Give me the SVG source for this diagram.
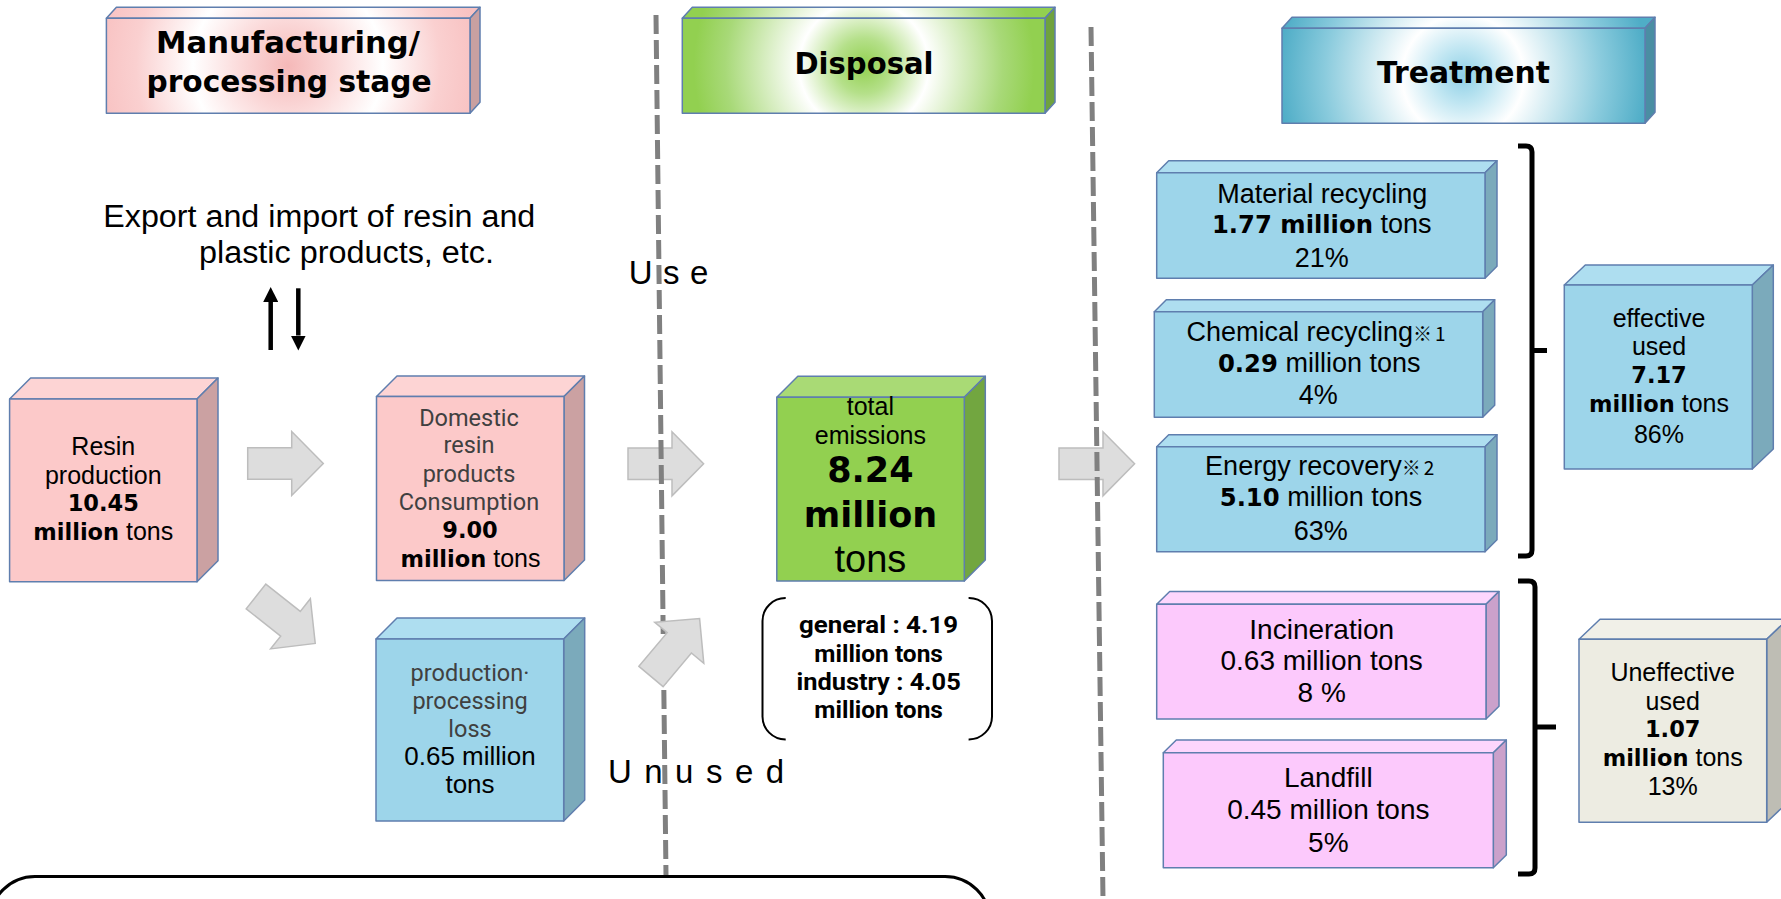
<svg xmlns="http://www.w3.org/2000/svg" xmlns:xlink="http://www.w3.org/1999/xlink" width="1781" height="899" viewBox="0 0 1781 899">
<style>
.e{stroke:#5F7EAE;stroke-width:1.5;stroke-linejoin:round}
.pkF{fill:#FCC9C9}.pkT{fill:#FDD4D4}.pkS{fill:#CBA1A2}
.blF{fill:#9DD5EA}.blT{fill:#AEDEF0}.blS{fill:#7BAABB}
.mgF{fill:#FCC9FC}.mgT{fill:#FDD6FD}.mgS{fill:#CBA1CB}
.grF{fill:#92D050}.grT{fill:#A9DA75}.grS{fill:#72A640}
.bgF{fill:#EDECE2}.bgT{fill:#F1F0E8}.bgS{fill:#BEBDB4}
.t{font-family:"Liberation Sans",Arial,sans-serif;fill:#000;text-anchor:middle}
.b{font-family:"DejaVu Sans",Verdana,sans-serif;font-weight:bold}
.r{font-family:Roboto,"Liberation Sans",sans-serif;fill:#404040}
.k{font-family:"Noto Sans CJK JP",sans-serif;font-size:19px}
.h{font-family:"DejaVu Sans",Verdana,sans-serif;font-weight:bold;font-size:31px;fill:#000;text-anchor:middle}
.g{font-family:Roboto,"Liberation Sans",sans-serif;font-weight:bold;font-size:23px;fill:#000;text-anchor:middle}
.blk{fill:#DDDDDD;stroke:#BDBDBD;stroke-width:1.5;stroke-linejoin:miter}
.dash{stroke:#808080;stroke-width:5;stroke-dasharray:19 6;fill:none}
.brk{fill:none;stroke:#000;stroke-width:5;stroke-linejoin:round;stroke-linecap:butt}
.thin{fill:none;stroke:#000;stroke-width:4.5}
</style>
<defs>
<radialGradient id="gPk" gradientUnits="userSpaceOnUse" cx="288" cy="66" r="190">
<stop offset="0" stop-color="#F5B8B8"/><stop offset="0.25" stop-color="#FBDADA"/><stop offset="0.5" stop-color="#FFFFFF"/><stop offset="0.8" stop-color="#FAD0D0"/><stop offset="1" stop-color="#F8C2C2"/>
</radialGradient>
<radialGradient id="gGr" gradientUnits="userSpaceOnUse" cx="864" cy="66" r="185">
<stop offset="0" stop-color="#92D050"/><stop offset="0.15" stop-color="#B5E08A"/><stop offset="0.35" stop-color="#FFFFFF"/><stop offset="0.75" stop-color="#A8D978"/><stop offset="0.92" stop-color="#92D050"/>
</radialGradient>
<radialGradient id="gBl" gradientUnits="userSpaceOnUse" cx="1463" cy="76" r="185">
<stop offset="0" stop-color="#8FD0E6"/><stop offset="0.15" stop-color="#C0E6F2"/><stop offset="0.33" stop-color="#FFFFFF"/><stop offset="0.75" stop-color="#8ACBDD"/><stop offset="1" stop-color="#4FADC7"/>
</radialGradient>
<path id="arr" d="M0,-15.8 H44 V-32 L75.6,0 L44,32 V15.8 H0 Z"/>
<marker id="ah" markerUnits="userSpaceOnUse" viewBox="0 0 15 15" markerWidth="15" markerHeight="15" refX="0" refY="7.5" orient="auto">
<path d="M0,0 L15,7.5 L0,15 Z" fill="#000"/>
</marker>
</defs>
<rect width="1781" height="899" fill="#FFFFFF"/>

<g id="connectors">
<use xlink:href="#arr" class="blk" transform="translate(628,463.8)"/>
<use xlink:href="#arr" class="blk" transform="translate(1059,463.8)"/>
<line class="dash" x1="656" y1="15" x2="666" y2="876"/>
<line class="dash" x1="1091" y1="27" x2="1103" y2="899"/>
<use xlink:href="#arr" class="blk" transform="translate(247.7,463.5)"/>
<use xlink:href="#arr" class="blk" transform="translate(256,596.5) rotate(38.4)"/>
<use xlink:href="#arr" class="blk" transform="translate(651,676.5) rotate(-50)"/>
<line class="thin" x1="270.7" y1="350" x2="270.7" y2="302" marker-end="url(#ah)"/>
<line class="thin" x1="298.3" y1="288.3" x2="298.3" y2="335.5" marker-end="url(#ah)"/>
<path class="brk" d="M1518,146 H1526 Q1532,146 1532,152 V550 Q1532,556 1526,556 H1518 M1532,350.5 H1547"/>
<path class="brk" d="M1518,581 H1529 Q1535,581 1535,587 V868 Q1535,874 1529,874 H1518 M1535,727 H1556"/>
<path fill="none" stroke="#000" stroke-width="2" d="M785.7,598 A23,23 0 0 0 762.5,621 V716 A23,23 0 0 0 785.7,739.4 M968.6,598 A23,23 0 0 1 992,621 V716 A23,23 0 0 1 968.6,739.4"/>
</g>

<g id="hdr-manufacturing">
<polygon class="e" fill="url(#gPk)" points="106.4,18.3 116.4,7.3 480,7.3 470,18.3"/>
<polygon class="e" fill="#C9A0A1" points="470,18.3 480,7.3 480,102.3 470,113.3"/>
<rect class="e" fill="url(#gPk)" x="106.4" y="18.3" width="363.6" height="95"/>
<text class="h" x="288" y="52.7" textLength="264" lengthAdjust="spacingAndGlyphs">Manufacturing/</text>
<text class="h" x="289" y="91.7" textLength="285" lengthAdjust="spacingAndGlyphs">processing stage</text>
</g>

<g id="hdr-disposal">
<polygon class="e" fill="url(#gGr)" points="682.3,18.3 692.3,7.3 1055,7.3 1045,18.3"/>
<polygon class="e" fill="#6FA23E" points="1045,18.3 1055,7.3 1055,102.3 1045,113.3"/>
<rect class="e" fill="url(#gGr)" x="682.3" y="18.3" width="362.7" height="95"/>
<text class="h" x="864" y="74" textLength="139" lengthAdjust="spacingAndGlyphs">Disposal</text>
</g>

<g id="hdr-treatment">
<polygon class="e" fill="url(#gBl)" points="1282,28.3 1292,17.3 1655,17.3 1645,28.3"/>
<polygon class="e" fill="#4A8EA3" points="1645,28.3 1655,17.3 1655,112.3 1645,123.3"/>
<rect class="e" fill="url(#gBl)" x="1282" y="28.3" width="363" height="95"/>
<text class="h" x="1463.5" y="83.3" textLength="173" lengthAdjust="spacingAndGlyphs">Treatment</text>
</g>

<g id="export-import">
<text class="t" style="text-anchor:start" x="103.3" y="226.7" font-size="31" textLength="432" lengthAdjust="spacingAndGlyphs">Export and import of resin and</text>
<text class="t" style="text-anchor:start" x="199" y="263" font-size="31" textLength="295" lengthAdjust="spacingAndGlyphs">plastic products, etc.</text>
</g>

<g id="resin-production">
<polygon class="e pkT" points="9.6,399 30.6,378 218,378 197,399"/>
<polygon class="e pkS" points="197,399 218,378 218,560.8 197,581.8"/>
<rect class="e pkF" x="9.6" y="399" width="187.4" height="182.8"/>
<text class="t" x="103.3" y="455" font-size="25">Resin</text>
<text class="t" x="103.3" y="483.7" font-size="25">production</text>
<text class="t" x="103.3" y="511" font-size="25"><tspan class="b" font-size="22.5">10.45</tspan></text>
<text class="t" x="103.3" y="540" font-size="25"><tspan class="b" font-size="22.5">million</tspan> tons</text>
</g>

<g id="domestic-consumption">
<polygon class="e pkT" points="376.5,396.5 397,376 584.5,376 564,396.5"/>
<polygon class="e pkS" points="564,396.5 584.5,376 584.5,560 564,580.5"/>
<rect class="e pkF" x="376.5" y="396.5" width="187.5" height="184"/>
<text class="t r" x="469" y="425.7" font-size="23.5">Domestic</text>
<text class="t r" x="469" y="453" font-size="23.5">resin</text>
<text class="t r" x="469" y="481.7" font-size="23.5">products</text>
<text class="t r" x="469" y="510" font-size="23.5">Consumption</text>
<text class="t" x="470" y="538" font-size="25"><tspan class="b" font-size="22.5">9.00</tspan></text>
<text class="t" x="470.5" y="566.7" font-size="25"><tspan class="b" font-size="22.5">million</tspan> tons</text>
</g>

<g id="processing-loss">
<polygon class="e blT" points="376,639 397,618 584.7,618 563.7,639"/>
<polygon class="e blS" points="563.7,639 584.7,618 584.7,800 563.7,821"/>
<rect class="e blF" x="376" y="639" width="187.7" height="182"/>
<text class="t r" x="470" y="681" font-size="23.5">production·</text>
<text class="t r" x="470" y="709" font-size="23.5">processing</text>
<text class="t r" x="470" y="737" font-size="23.5">loss</text>
<text class="t" x="470" y="765" font-size="26">0.65 million</text>
<text class="t" x="470" y="793" font-size="26">tons</text>
</g>

<g id="total-emissions">
<polygon class="e grT" points="776.8,397.3 797.8,376.3 985.3,376.3 964.3,397.3"/>
<polygon class="e grS" points="964.3,397.3 985.3,376.3 985.3,560 964.3,581"/>
<rect class="e grF" x="776.8" y="397.3" width="187.5" height="183.7"/>
<text class="t" x="870.4" y="414.8" font-size="25">total</text>
<text class="t" x="870.4" y="443.8" font-size="25">emissions</text>
<text class="t b" x="870.4" y="482.4" font-size="35">8.24</text>
<text class="t b" x="870.4" y="526.8" font-size="35">million</text>
<text class="t" x="870.4" y="572.3" font-size="38">tons</text>
</g>

<g id="breakdown">
<text class="g" x="878.6" y="633" textLength="159" lengthAdjust="spacingAndGlyphs">general : 4.19</text>
<text class="g" x="878.6" y="661.6" textLength="128.6" lengthAdjust="spacingAndGlyphs">million tons</text>
<text class="g" x="878.6" y="689.6" textLength="164.3" lengthAdjust="spacingAndGlyphs">industry : 4.05</text>
<text class="g" x="878.6" y="718.3" textLength="128.6" lengthAdjust="spacingAndGlyphs">million tons</text>
</g>

<g id="label-use">
<text class="t" style="text-anchor:start" x="628.7" y="284" font-size="33" letter-spacing="10.5">Use</text>
</g>
<g id="label-unused">
<text class="t" style="text-anchor:start" x="607.9" y="783" font-size="33" letter-spacing="12.5">Unused</text>
</g>

<g id="material-recycling">
<polygon class="e blT" points="1156.7,172.7 1168.7,160.7 1497,160.7 1485,172.7"/>
<polygon class="e blS" points="1485,172.7 1497,160.7 1497,266.3 1485,278.3"/>
<rect class="e blF" x="1156.7" y="172.7" width="328.3" height="105.6"/>
<text class="t" x="1322.3" y="203.3" font-size="27">Material recycling</text>
<text class="t" x="1321.7" y="232.7" font-size="27"><tspan class="b" font-size="24.3">1.77 million</tspan> tons</text>
<text class="t" x="1321.7" y="266.7" font-size="27">21%</text>
</g>

<g id="chemical-recycling">
<polygon class="e blT" points="1154.3,311.7 1166.3,299.7 1494.7,299.7 1482.7,311.7"/>
<polygon class="e blS" points="1482.7,311.7 1494.7,299.7 1494.7,405.3 1482.7,417.3"/>
<rect class="e blF" x="1154.3" y="311.7" width="328.4" height="105.6"/>
<text class="t" x="1316" y="340.7" font-size="27">Chemical recycling<tspan class="k">※</tspan><tspan class="k" dx="3">1</tspan></text>
<text class="t" x="1319.2" y="371.7" font-size="27"><tspan class="b" font-size="24.3">0.29</tspan> million tons</text>
<text class="t" x="1318.3" y="404" font-size="27">4%</text>
</g>

<g id="energy-recovery">
<polygon class="e blT" points="1156.7,446.7 1168.7,434.7 1497,434.7 1485,446.7"/>
<polygon class="e blS" points="1485,446.7 1497,434.7 1497,539.7 1485,551.7"/>
<rect class="e blF" x="1156.7" y="446.7" width="328.3" height="105"/>
<text class="t" x="1319.7" y="475" font-size="27">Energy recovery<tspan class="k">※</tspan><tspan class="k" dx="3">2</tspan></text>
<text class="t" x="1321" y="506" font-size="27"><tspan class="b" font-size="24.3">5.10</tspan> million tons</text>
<text class="t" x="1320.8" y="540" font-size="27">63%</text>
</g>

<g id="incineration">
<polygon class="e mgT" points="1156.7,604.3 1169.7,591.5 1499,591.5 1486,604.3"/>
<polygon class="e mgS" points="1486,604.3 1499,591.5 1499,706.2 1486,719"/>
<rect class="e mgF" x="1156.7" y="604.3" width="329.3" height="114.7"/>
<text class="t" x="1321.7" y="639" font-size="28">Incineration</text>
<text class="t" x="1321.7" y="670" font-size="28">0.63 million tons</text>
<text class="t" x="1321.7" y="702.3" font-size="28">8 %</text>
</g>

<g id="landfill">
<polygon class="e mgT" points="1163.3,752.7 1176.3,740 1506.3,740 1493.3,752.7"/>
<polygon class="e mgS" points="1493.3,752.7 1506.3,740 1506.3,855 1493.3,867.7"/>
<rect class="e mgF" x="1163.3" y="752.7" width="330" height="115"/>
<text class="t" x="1328.3" y="787.3" font-size="28">Landfill</text>
<text class="t" x="1328.3" y="819.3" font-size="28">0.45 million tons</text>
<text class="t" x="1328.3" y="851.7" font-size="28">5%</text>
</g>

<g id="effective-used">
<polygon class="e blT" points="1564.3,285 1585.3,265 1773.3,265 1752.3,285"/>
<polygon class="e blS" points="1752.3,285 1773.3,265 1773.3,449 1752.3,469"/>
<rect class="e blF" x="1564.3" y="285" width="188" height="184"/>
<text class="t" x="1659" y="326.7" font-size="25">effective</text>
<text class="t" x="1659" y="355" font-size="25">used</text>
<text class="t" x="1659" y="383.3" font-size="25"><tspan class="b" font-size="22.5">7.17</tspan></text>
<text class="t" x="1659" y="411.7" font-size="25"><tspan class="b" font-size="22.5">million</tspan> tons</text>
<text class="t" x="1659" y="442.7" font-size="25">86%</text>
</g>

<g id="uneffective-used">
<polygon class="e bgT" points="1579,639.3 1600,619.3 1787.7,619.3 1766.7,639.3"/>
<polygon class="e bgS" points="1766.7,639.3 1787.7,619.3 1787.7,802.3 1766.7,822.3"/>
<rect class="e bgF" x="1579" y="639.3" width="187.7" height="183"/>
<text class="t" x="1672.7" y="681" font-size="25">Uneffective</text>
<text class="t" x="1672.7" y="710" font-size="25">used</text>
<text class="t" x="1672.7" y="736.7" font-size="25"><tspan class="b" font-size="22.5">1.07</tspan></text>
<text class="t" x="1672.7" y="765.7" font-size="25"><tspan class="b" font-size="22.5">million</tspan> tons</text>
<text class="t" x="1672.7" y="795" font-size="25">13%</text>
</g>

<g id="note-box">
<rect x="-10" y="876.5" width="1000" height="100" rx="45" ry="45" fill="#FFFFFF" stroke="#000" stroke-width="3"/>
</g>
</svg>
